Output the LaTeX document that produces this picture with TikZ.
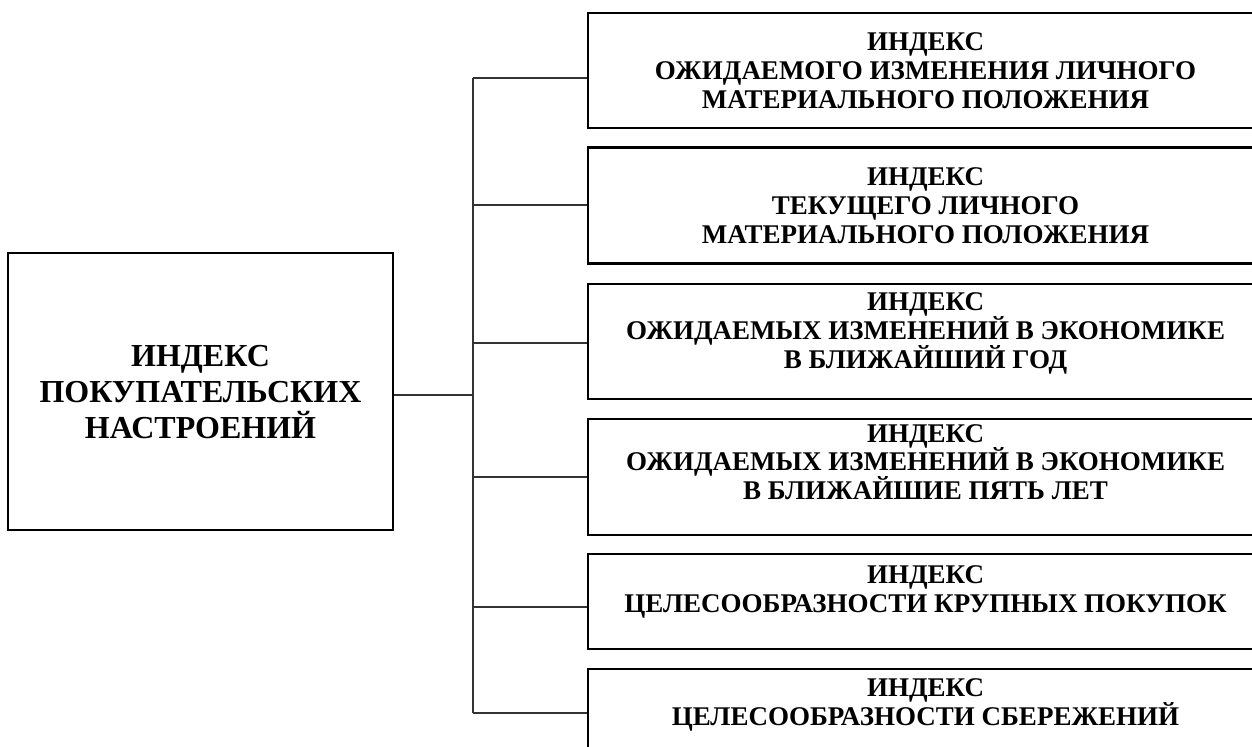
\documentclass[tikz,border=0pt]{standalone}
\usepackage{fontspec}
\setmainfont{Liberation Serif}
\usetikzlibrary{positioning, calc}
\tikzstyle{rootbox} = [draw, line width=1pt, minimum width=192.5pt,
                       minimum height=138.5pt, align=center, inner sep=0pt,
                       font=\fontsize{16}{18}\selectfont\bfseries]
\tikzstyle{leafbox} = [draw, line width=1pt, minimum width=337.5pt,
                       minimum height=57.5pt, align=center, inner sep=0pt,
                       font=\fontsize{13.5}{14.4}\selectfont\bfseries]
\tikzstyle{link}    = [line width=0.8pt, color=black!80]

\begin{document}
\begin{tikzpicture}[x=0.5pt, y=-0.5pt, node distance=8.75pt]

  \useasboundingbox (0,0) rectangle (1252,747);
  \clip (0,0) rectangle (1252,747);

  %% root index
  \node[rootbox] (root) at (200.5,392)
    {ИНДЕКС\\ПОКУПАТЕЛЬСКИХ\\НАСТРОЕНИЙ};

  %% partial indices
  \node[leafbox, anchor=north west] (b1) at (587,12)
    {ИНДЕКС\\ОЖИДАЕМОГО ИЗМЕНЕНИЯ ЛИЧНОГО\\МАТЕРИАЛЬНОГО ПОЛОЖЕНИЯ};
  \node[leafbox, line width=1.4pt, minimum height=58pt, below=of b1] (b2)
    {ИНДЕКС\\ТЕКУЩЕГО ЛИЧНОГО\\МАТЕРИАЛЬНОГО ПОЛОЖЕНИЯ};
  \node[leafbox, line width=1.3pt, text depth=11pt, below=of b2] (b3)
    {ИНДЕКС\\ОЖИДАЕМЫХ ИЗМЕНЕНИЙ В ЭКОНОМИКЕ\\В БЛИЖАЙШИЙ ГОД};
  \node[leafbox, minimum height=58pt, text depth=15pt, below=of b3] (b4)
    {ИНДЕКС\\ОЖИДАЕМЫХ ИЗМЕНЕНИЙ В ЭКОНОМИКЕ\\В БЛИЖАЙШИЕ ПЯТЬ ЛЕТ};
  \node[leafbox, minimum height=47.5pt, text depth=13pt, below=of b4] (b5)
    {ИНДЕКС\\ЦЕЛЕСООБРАЗНОСТИ КРУПНЫХ ПОКУПОК};
  \node[leafbox, minimum height=47.5pt, text depth=14pt, below=of b5] (b6)
    {ИНДЕКС\\ЦЕЛЕСООБРАЗНОСТИ СБЕРЕЖЕНИЙ};

  %% spine and branches
  \coordinate (spine) at (473,395);
  \draw[link] (root.east |- spine) -- (spine);
  \foreach \i/\by in {1/78,2/205,3/343,4/477,5/607,6/713} {
    \coordinate (j\i) at (473,\by);
    \draw[link] (j\i) -- (b\i.west |- j\i);
  }
  \draw[link] (j1) -- (j6);

\end{tikzpicture}
\end{document}
